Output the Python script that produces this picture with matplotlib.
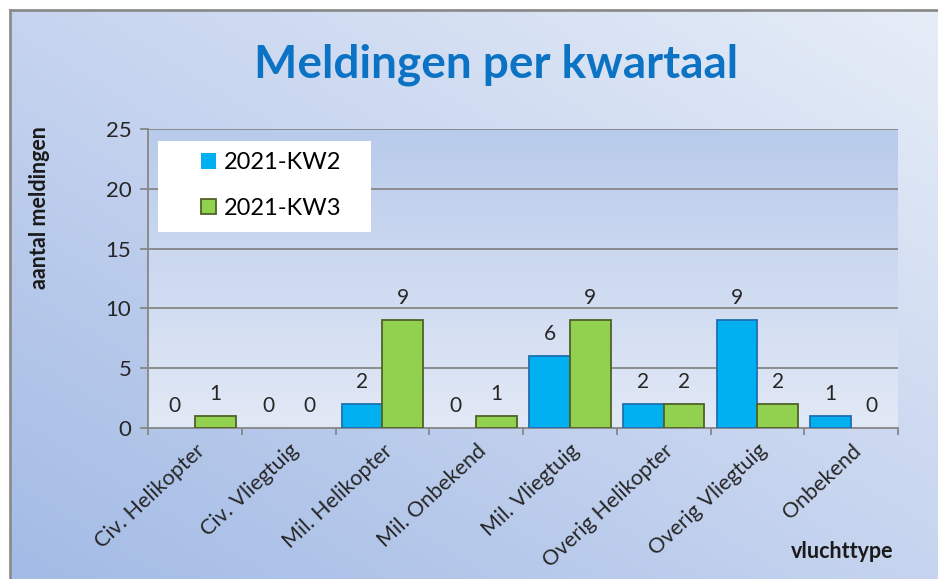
import matplotlib
matplotlib.use("Agg")
import matplotlib.pyplot as plt
import numpy as np
from matplotlib.colors import LinearSegmentedColormap
from matplotlib.patches import Rectangle

plt.rcParams['font.family'] = ['Lato', 'DejaVu Sans']

categories = ['Civ. Helikopter', 'Civ. Vliegtuig', 'Mil. Helikopter', 'Mil. Onbekend',
              'Mil. Vliegtuig', 'Overig Helikopter', 'Overig Vliegtuig', 'Onbekend']
kw2 = [0, 0, 2, 0, 6, 2, 9, 1]
kw3 = [1, 0, 9, 1, 9, 2, 2, 0]
series_names = ['2021-KW2', '2021-KW3']

fig = plt.figure(figsize=(9.38, 5.79), dpi=100)
fig.patch.set_facecolor('white')

# chart background with diagonal gradient
bg = fig.add_axes([10/938, 0, 928/938, 569/579])
gx, gy = np.meshgrid(np.linspace(0, 1, 200), np.linspace(0, 1, 200))
g = (gx + gy) / 2
cm_bg = LinearSegmentedColormap.from_list('bg', ['#a3bbe5', '#c6d4ef', '#e6edf7'])
bg.imshow(g, cmap=cm_bg, origin='lower', extent=[0, 1, 0, 1], aspect='auto')
bg.set_xlim(0, 1)
bg.set_ylim(0, 1)
bg.set_xticks([])
bg.set_yticks([])
for s in ['right', 'bottom']:
    bg.spines[s].set_visible(False)
for s in ['top', 'left']:
    bg.spines[s].set_color('#8c8c8c')
    bg.spines[s].set_linewidth(2)

ax = fig.add_axes([148/938, 1 - 428/579, 750/938, 299/579])
ax.patch.set_visible(False)
x = np.arange(len(categories))
w = 0.435

ax.set_xlim(-0.5, len(categories) - 0.5)
ax.set_ylim(0, 25)

# plot area gradient (vertical)
cm_pa = LinearSegmentedColormap.from_list('pa', ['#e2e9f6', '#b9cbeb'])
ax.imshow(np.linspace(0, 1, 100).reshape(-1, 1), cmap=cm_pa, origin='lower',
          extent=[-0.5, len(categories) - 0.5, 0, 25], aspect='auto', zorder=0)

for yv in [5, 10, 15, 20, 25]:
    ax.axhline(yv, color='#868686', lw=1.3, zorder=1)

b1 = ax.bar(x - w/2, kw2, w, color='#00b0f0', edgecolor='#1f6fb0', lw=1.3, zorder=3, label=series_names[0])
b2 = ax.bar(x + w/2, kw3, w, color='#92d050', edgecolor='#4f6228', lw=1.3, zorder=3, label=series_names[1])
for bars, vals in [(b1, kw2), (b2, kw3)]:
    for rect, v in zip(bars, vals):
        if v == 0:
            rect.set_linewidth(0)

for xi, v in zip(x - w/2, kw2):
    ax.annotate(str(v), (xi, v), xytext=(0, 16), textcoords='offset points',
                ha='center', va='center', fontsize=15, color='#262626')
for xi, v in zip(x + w/2, kw3):
    ax.annotate(str(v), (xi, v), xytext=(0, 16), textcoords='offset points',
                ha='center', va='center', fontsize=15, color='#262626')

ax.set_yticks([0, 5, 10, 15, 20, 25])
ax.tick_params(axis='y', length=6, width=1.3, color='#868686', labelsize=16, labelcolor='#262626', pad=6)
ax.set_xticks(np.arange(-0.5, len(categories)), labels=[''] * (len(categories) + 1))
ax.set_xticks(x, labels=categories, minor=True)
ax.tick_params(axis='x', which='major', length=5, width=1.3, color='#868686')
ax.tick_params(axis='x', which='minor', length=0, labelsize=15.5, labelcolor='#262626', pad=9)
for lab in ax.get_xticklabels(minor=True):
    lab.set_rotation(43)
    lab.set_ha('right')
    lab.set_rotation_mode('anchor')

for s in ['top', 'right']:
    ax.spines[s].set_visible(False)
ax.spines['left'].set_color('#868686')
ax.spines['bottom'].set_color('#868686')
ax.spines['left'].set_linewidth(1.3)
ax.spines['bottom'].set_linewidth(1.3)

# legend box
fig.patches.append(Rectangle((158/938, 1 - 232/579), 213/938, 91/579, transform=fig.transFigure,
                             facecolor='white', edgecolor='none', zorder=4))
leg = fig.legend(handles=[b1, b2], loc='upper left', bbox_to_anchor=(201/938, 1 - 152/579),
                 fontsize=17, frameon=False, handlelength=0.65, handleheight=0.65,
                 handletextpad=0.3, labelspacing=1.05, borderpad=0, borderaxespad=0)
leg.set_zorder(6)

fig.text(496/938, 1 - 65/579, 'Meldingen per kwartaal', ha='center', va='center',
         fontsize=33, fontweight='bold', color='#0b72c4')
fig.text(40/938, 1 - 208/579, 'aantal meldingen', ha='center', va='center', rotation=90,
         fontsize=15.5, fontweight='bold', color='#1a1a1a')
fig.text(842/938, 1 - 552/579, 'vluchttype', ha='center', va='center',
         fontsize=15.5, fontweight='bold', color='#1a1a1a')

fig.savefig('out.png', dpi=100)
